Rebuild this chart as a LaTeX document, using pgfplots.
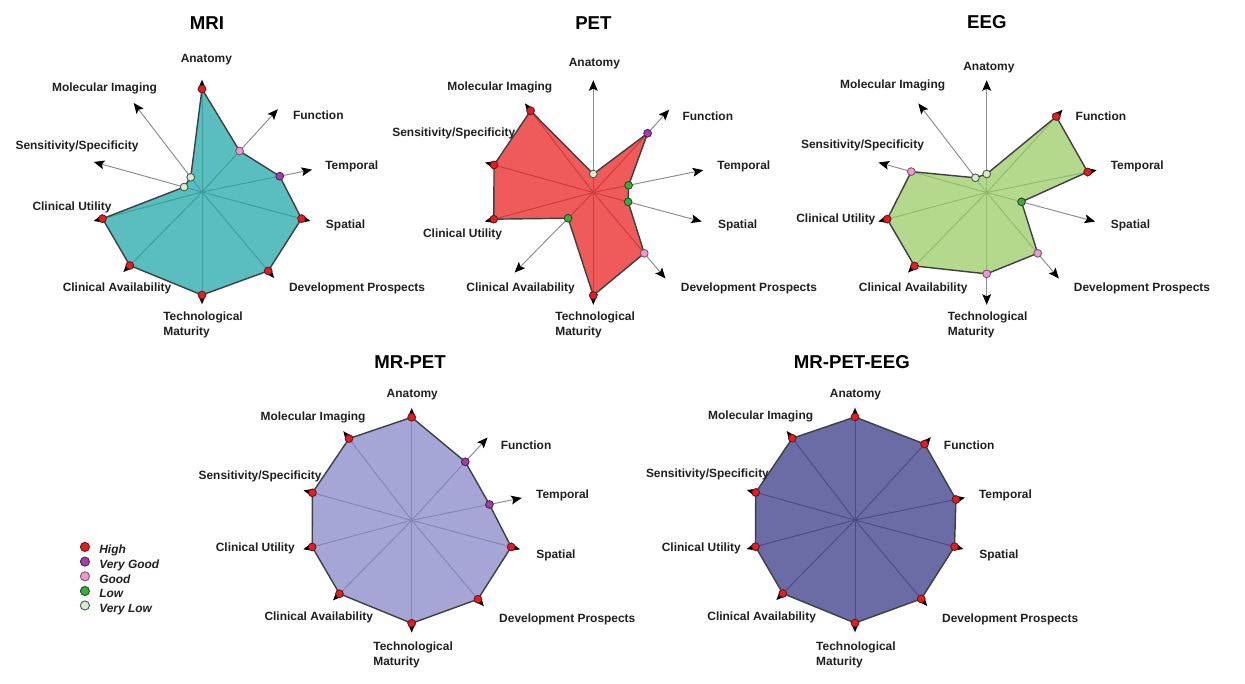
\documentclass[border=0pt]{standalone}
\usepackage{fontspec}
\setmainfont{Liberation Sans}
\usepackage{pgfplots}
\pgfplotsset{compat=1.18}
\usepackage{pgfplotstable}
\usetikzlibrary{arrows.meta}

\definecolor{cMRI}{RGB}{27,165,165}
\definecolor{cPET}{RGB}{233,27,27}
\definecolor{cEEG}{RGB}{152,202,95}
\definecolor{cMRPET}{RGB}{131,131,198}
\definecolor{cALL}{RGB}{50,50,131}
\definecolor{edge}{RGB}{60,64,64}
\definecolor{spk}{RGB}{140,140,140}
\definecolor{cH}{RGB}{222,32,36}
\definecolor{cHd}{RGB}{110,20,20}
\definecolor{cVG}{RGB}{158,64,168}
\definecolor{cVGd}{RGB}{80,30,85}
\definecolor{cG}{RGB}{234,156,204}
\definecolor{cGd}{RGB}{130,80,110}
\definecolor{cL}{RGB}{64,170,64}
\definecolor{cLd}{RGB}{30,80,30}
\definecolor{cVL}{RGB}{214,236,206}
\definecolor{cVLd}{RGB}{70,90,70}

% angle (deg), radius (High = 5), level
\pgfplotstableread{
ang val lvl
90 5 H
47.5 2.7 G
11.5 3.85 VG
-15 5 H
-50 5 H
-90 5 H
-134.5 5 H
-165 5 H
164.5 0.9 VL
127.5 0.9 VL
}\mri
\pgfplotstableread{
ang val lvl
90 0.9 VL
47.5 3.9 VG
11.5 1.75 L
-15 1.75 L
-50 3.85 G
-90 5 H
-134.5 1.75 L
-165 5 H
164.5 5 H
127.5 5 H
}\pet
\pgfplotstableread{
ang val lvl
90 0.9 VL
47.5 5 H
11.5 5 H
-15 1.75 L
-50 3.85 G
-90 3.95 G
-134.5 5 H
-165 5 H
164.5 3.8 G
127.5 0.9 VL
}\eeg
\pgfplotstableread{
ang val lvl
90 5 H
47.5 3.85 VG
11.5 3.85 VG
-15 5 H
-50 5 H
-90 5 H
-134.5 5 H
-165 5 H
164.5 5 H
127.5 5 H
}\mrpet
\pgfplotstableread{
ang val lvl
90 5 H
47.5 5 H
11.5 5 H
-15 5 H
-50 5 H
-90 5 H
-134.5 5 H
-165 5 H
164.5 5 H
127.5 5 H
}\mrpeteeg

\pgfplotsset{
  radar/.style={hide axis, anchor=center, scale only axis,
    x=0.412cm, y=0.412cm, xmin=-6, xmax=6, ymin=-6, ymax=6,
    enlargelimits=false, clip=false},
  spoke/.style={data cs=polar, draw=spk, line width=0.55pt, forget plot,
    -{Stealth[length=6pt, width=5pt, inset=1.2pt, color=black]}},
  area/.style={data cs=polar, draw=edge, line width=0.8pt, line join=round,
    fill opacity=0.72, forget plot},
  dots/.style={data cs=polar, only marks, scatter, scatter src=explicit symbolic,
    mark=*, mark size=2.2pt, mark options={line width=0.5pt},
    scatter/classes={
      H={fill=cH, draw=cHd}, VG={fill=cVG, draw=cVGd}, G={fill=cG, draw=cGd},
      L={fill=cL, draw=cLd}, VL={fill=cVL, draw=cVLd}}},
}

\newcommand{\radarbody}[2]{%
  \pgfplotsinvokeforeach{90,47.5,11.5,-15,-50,-90,-134.5,-165,164.5,127.5}{%
    \addplot[spoke] coordinates {(##1,0) (##1,5.45)};}
  \addplot[area, fill=#2] table[x=ang, y=val] {#1} -- cycle;
  \addplot[dots] table[x=ang, y=val, meta=lvl] {#1};
}

\begin{document}
\begin{tikzpicture}
\path[use as bounding box] (0,0) rectangle (24.9,-13.68);

\begin{axis}[radar, at={(4.04cm,-3.84cm)}]
  \radarbody{\mri}{cMRI}
\end{axis}
\begin{axis}[radar, at={(11.866cm,-3.85cm)}]
  \radarbody{\pet}{cPET}
\end{axis}
\begin{axis}[radar, at={(19.734cm,-3.85cm)}]
  \radarbody{\eeg}{cEEG}
\end{axis}
\begin{axis}[radar, at={(8.234cm,-10.406cm)}]
  \radarbody{\mrpet}{cMRPET}
\end{axis}
\begin{axis}[radar, at={(17.1cm,-10.4cm)}]
  \radarbody{\mrpeteeg}{cALL}
\end{axis}

% legend
\begin{axis}[at={(1.6cm,-10.84cm)}, anchor=north west, hide axis, scale only axis,
  width=1cm, height=1cm, xmin=0, xmax=1, ymin=0, ymax=1,
  legend style={at={(0,1)}, anchor=north west, draw=none, fill=none,
    inner sep=0pt, row sep=-0.45pt,
    font=\fontsize{6.8}{8}\selectfont\bfseries\itshape, text=black!88,
    nodes={inner sep=0.8pt}},
  legend cell align=left,
  legend image code/.code={\path[draw=none, fill=none] (0.1cm,0cm) -- (0.36cm,0cm);
    \draw[#1, line width=0.5pt, mark size=2.6pt]
    plot coordinates {(0.1cm,2.2pt)};}]
  \addlegendimage{mark=*, fill=cH, draw=cHd}
  \addlegendentry{High}
  \addlegendimage{mark=*, fill=cVG, draw=cVGd}
  \addlegendentry{Very Good}
  \addlegendimage{mark=*, fill=cG, draw=cGd}
  \addlegendentry{Good}
  \addlegendimage{mark=*, fill=cL, draw=cLd}
  \addlegendentry{Low}
  \addlegendimage{mark=*, fill=cVL, draw=cVLd}
  \addlegendentry{Very Low}
\end{axis}

\begin{scope}[x=0.02cm, y=-0.02cm,
  lbl/.style={font=\fontsize{6.8}{8.3}\selectfont\bfseries, text=black!88, inner sep=0pt},
  ttl/.style={font=\fontsize{10.6}{12}\selectfont\bfseries, inner sep=0pt}]
  \node[ttl] at (207,23) {MRI};
  \node[ttl] at (593.3,22.7) {PET};
  \node[ttl] at (986.7,22) {EEG};
  \node[ttl] at (410,361.7) {MR-PET};
  \node[ttl] at (851.7,361.7) {MR-PET-EEG};

  % MRI
  \node[lbl] at (206.3,60) {Anatomy};
  \node[lbl] at (318.3,115.7) {Function};
  \node[lbl] at (351.7,166) {Temporal};
  \node[lbl] at (345.5,225.7) {Spatial};
  \node[lbl] at (357,288.7) {Development Prospects};
  \node[lbl, align=left] at (203,325) {Technological\\Maturity};
  \node[lbl] at (117,288.7) {Clinical Availability};
  \node[lbl] at (72,207.3) {Clinical Utility};
  \node[lbl] at (77,146.7) {Sensitivity/Specificity};
  \node[lbl] at (104.5,88.3) {Molecular Imaging};
  % PET
  \node[lbl] at (594.3,63.3) {Anatomy};
  \node[lbl] at (707.7,116.7) {Function};
  \node[lbl] at (743.7,166) {Temporal};
  \node[lbl] at (737.5,225) {Spatial};
  \node[lbl] at (748.8,288.7) {Development Prospects};
  \node[lbl, align=left] at (595,325) {Technological\\Maturity};
  \node[lbl] at (520.5,288.7) {Clinical Availability};
  \node[lbl] at (462.5,234.3) {Clinical Utility};
  \node[lbl] at (453.7,133.3) {Sensitivity/Specificity};
  \node[lbl] at (499.7,87.3) {Molecular Imaging};
  % EEG
  \node[lbl] at (988.7,67.7) {Anatomy};
  \node[lbl] at (1100.7,116.7) {Function};
  \node[lbl] at (1137,166) {Temporal};
  \node[lbl] at (1130.3,225) {Spatial};
  \node[lbl] at (1141.8,288.7) {Development Prospects};
  \node[lbl, align=left] at (987.5,325) {Technological\\Maturity};
  \node[lbl] at (913,288.7) {Clinical Availability};
  \node[lbl] at (835.7,219.3) {Clinical Utility};
  \node[lbl] at (862.3,145.7) {Sensitivity/Specificity};
  \node[lbl] at (892.5,85) {Molecular Imaging};
  % MR-PET
  \node[lbl] at (412.2,395) {Anatomy};
  \node[lbl] at (526,445) {Function};
  \node[lbl] at (562.5,495) {Temporal};
  \node[lbl] at (555.8,555) {Spatial};
  \node[lbl] at (567.2,619) {Development Prospects};
  \node[lbl, align=left] at (413,654.7) {Technological\\Maturity};
  \node[lbl] at (318.7,617.7) {Clinical Availability};
  \node[lbl] at (255.3,548.3) {Clinical Utility};
  \node[lbl] at (260,476.7) {Sensitivity/Specificity};
  \node[lbl] at (313,417.3) {Molecular Imaging};
  % MR-PET-EEG
  \node[lbl] at (855.3,395) {Anatomy};
  \node[lbl] at (969,445) {Function};
  \node[lbl] at (1005.3,495) {Temporal};
  \node[lbl] at (998.7,555) {Spatial};
  \node[lbl] at (1010,619) {Development Prospects};
  \node[lbl, align=left] at (855.8,654.7) {Technological\\Maturity};
  \node[lbl] at (761.5,617.7) {Clinical Availability};
  \node[lbl] at (701.2,548.3) {Clinical Utility};
  \node[lbl] at (707.3,474.3) {Sensitivity/Specificity};
  \node[lbl] at (760.5,416) {Molecular Imaging};
\end{scope}
\end{tikzpicture}
\end{document}
